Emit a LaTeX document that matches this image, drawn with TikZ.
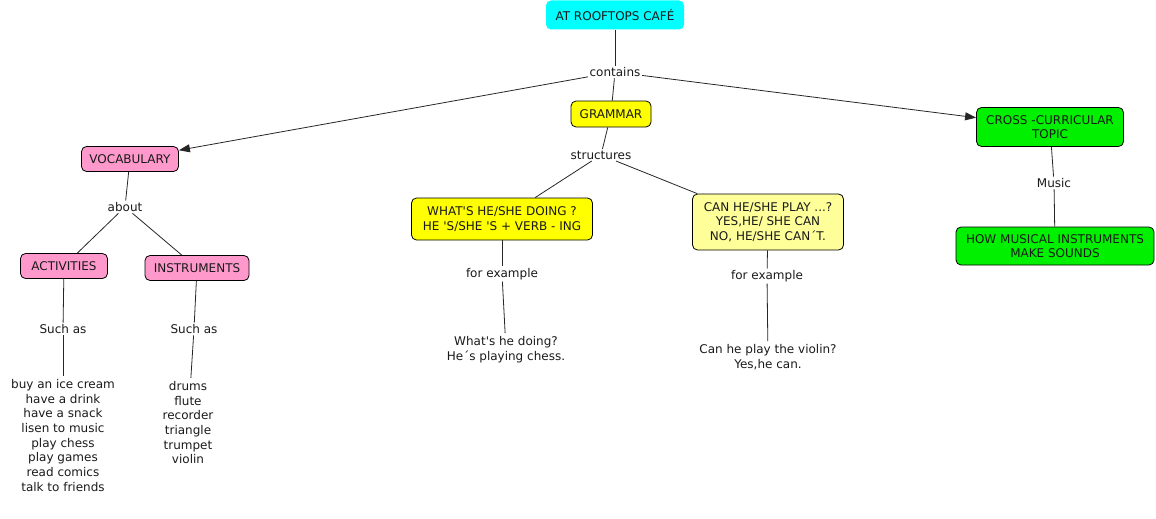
\documentclass[tikz,border=0pt]{standalone}
\usepackage{fontspec}
\setmainfont{DejaVu Sans}
\usetikzlibrary{arrows.meta,positioning}
\definecolor{cafecyan}{HTML}{00FFFF}
\definecolor{vocpink}{HTML}{FF99CC}
\definecolor{gramyellow}{HTML}{FFFF00}
\definecolor{paleyellow}{HTML}{FFFF99}
\definecolor{topicgreen}{HTML}{00F000}
\definecolor{inktext}{HTML}{1A1A1A}

\begin{document}
\begin{tikzpicture}[
  x=1pt, y=-1pt,
  concept/.style={draw=black, line width=0.8pt, rounded corners=5pt, align=center, inner sep=2pt,
    font=\fontsize{12}{14.5}\selectfont, text=inktext},
  link/.style={font=\fontsize{12}{14.5}\selectfont, inner sep=1.5pt, fill=white, text=inktext},
  plain/.style={font=\fontsize{12}{14.7}\selectfont, align=center, inner sep=3pt, text=inktext},
  conn/.style={line width=0.8pt, draw=black!85},
  arr/.style={conn, -{Triangle[length=11pt,width=8pt]}}
]
\useasboundingbox (0,0) rectangle (1156,519);
% top concept
\node[concept, draw=none, fill=cafecyan, minimum width=138pt, minimum height=29pt] (cafe) at (615,15) {AT ROOFTOPS CAFÉ};
\node[link] (contains) at (615,72) {contains};
\node[concept, fill=gramyellow, minimum width=80pt, minimum height=26pt] (grammar) at (611,114) {GRAMMAR};
\node[concept, fill=vocpink, minimum width=97pt, minimum height=25pt] (vocab) at (130,159) {VOCABULARY};
\node[concept, fill=topicgreen, minimum width=147pt, minimum height=39pt] (cross) at (1050,127) {CROSS -CURRICULAR\\TOPIC};
% vocabulary branch
\node[link] (about) at (125,207) {about};
\node[concept, fill=vocpink, minimum width=87pt, minimum height=25pt] (activ) at (64,266) {ACTIVITIES};
\node[concept, fill=vocpink, minimum width=104pt, minimum height=25pt] (instr) at (197,268) {INSTRUMENTS};
\node[link] (suchA) at (63,329) {Such as};
\node[link] (suchI) at (194,329) {Such as};
\node[plain, anchor=north] (actlist) at (63,376) {buy an ice cream\\have a drink\\have a snack\\lisen to music\\play chess\\play games\\read comics\\talk to friends};
\node[plain, anchor=north] (instlist) at (188,378) {drums\\flute\\recorder\\triangle\\trumpet\\violin};
% grammar branch
\node[link] (struct) at (601,155) {structures};
\node[concept, fill=gramyellow, minimum width=181pt, minimum height=42pt] (whats) at (502,219) {WHAT\textquotesingle S HE/SHE DOING ?\\HE \textquotesingle S/SHE \textquotesingle S + VERB - ING};
\node[concept, fill=paleyellow, minimum width=151pt, minimum height=56pt] (canplay) at (768,222) {CAN HE/SHE PLAY ...?\\YES,HE/ SHE CAN\\NO, HE/SHE CAN´T.};
\node[link] (forex1) at (502,274) {for example};
\node[link] (forex2) at (767,276) {for example};
\node[plain, anchor=north] (ex1) at (506,333) {What\textquotesingle s he doing?\\He´s playing chess.};
\node[plain, anchor=north] (ex2) at (768,341) {Can he play the violin?\\Yes,he can.};
% cross-curricular branch
\node[link] (music) at (1054,183) {Music};
\node[concept, fill=topicgreen, minimum width=198pt, minimum height=38pt] (sounds) at (1055,246) {HOW MUSICAL INSTRUMENTS\\MAKE SOUNDS};

\draw[conn] (cafe) -- (contains);
\draw[conn] (contains) -- (grammar);
\draw[arr] (contains) -- (vocab);
\draw[arr] (contains) -- (cross);
\draw[conn] (vocab) -- (about);
\draw[conn] (about) -- (activ);
\draw[conn] (about) -- (instr);
\draw[conn] (activ) -- (suchA);
\draw[conn] (suchA) -- (actlist);
\draw[conn] (instr) -- (suchI);
\draw[conn] (suchI) -- (instlist);
\draw[conn] (grammar) -- (struct);
\draw[conn] (struct) -- (whats);
\draw[conn] (struct) -- (canplay);
\draw[conn] (whats) -- (forex1);
\draw[conn] (forex1) -- (ex1);
\draw[conn] (canplay) -- (forex2);
\draw[conn] (forex2) -- (ex2);
\draw[conn] (cross) -- (music);
\draw[conn] (music) -- (sounds);
\end{tikzpicture}
\end{document}
